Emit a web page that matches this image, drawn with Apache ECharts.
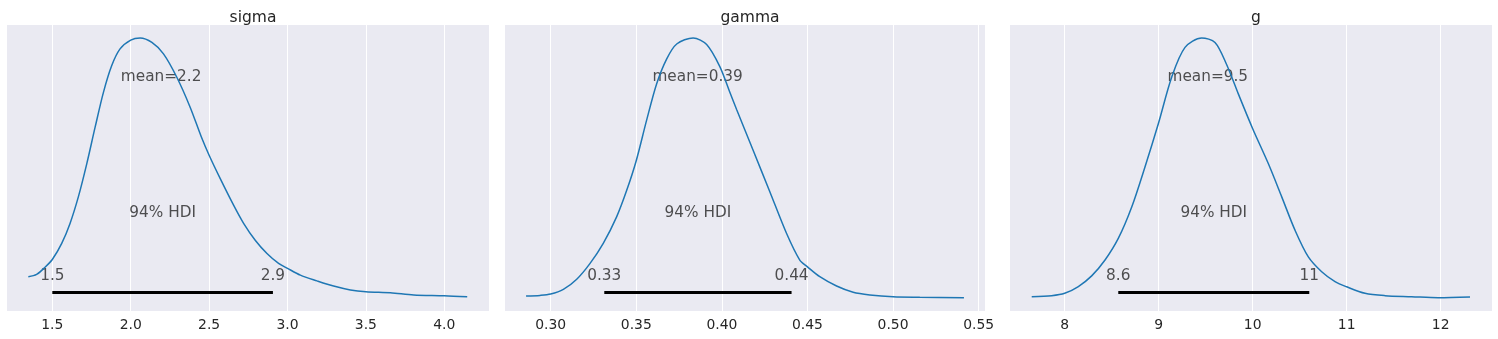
<!DOCTYPE html>
<html>
<head>
<meta charset="utf-8">
<script src="https://cdn.jsdelivr.net/npm/echarts@6/dist/echarts.min.js"></script>
<style>
html,body{margin:0;padding:0;background:#fff;}
#c{width:1498px;height:339px;}
</style>
</head>
<body>
<div id="c"></div>
<script>
// ---- data ----
const titles = ['sigma', 'gamma', 'g'];

const sigmaX = [1.347,1.40,1.453,1.5,1.56,1.613,1.666,1.72,1.773,1.826,1.879,1.932,2.0,2.06,2.135,2.209,2.294,2.379,2.45,2.5,2.571,2.656,2.72,2.794,2.869,2.943,3.0,3.082,3.188,3.294,3.401,3.5,3.656,3.805,4.0,4.146];
const sigmaD = [0.082,0.091,0.118,0.148,0.210,0.287,0.389,0.517,0.657,0.791,0.894,0.958,0.992,1.0,0.983,0.939,0.849,0.734,0.62,0.549,0.459,0.357,0.287,0.222,0.171,0.133,0.114,0.088,0.066,0.046,0.031,0.024,0.020,0.012,0.009,0.005];

const gammaX = [0.2856,0.2938,0.30,0.3074,0.3152,0.323,0.3307,0.3385,0.3444,0.35,0.356,0.3619,0.3677,0.3736,0.3832,0.3911,0.3988,0.4047,0.4086,0.4183,0.428,0.4378,0.4455,0.45,0.4572,0.467,0.4767,0.4864,0.50,0.5156,0.5414];
const gammaD = [0.008,0.010,0.015,0.033,0.072,0.133,0.210,0.312,0.414,0.529,0.683,0.824,0.919,0.977,1.0,0.975,0.89,0.79,0.725,0.567,0.409,0.248,0.146,0.120,0.082,0.046,0.022,0.012,0.005,0.003,0.001];

const gX = [7.649,7.862,8.0,8.145,8.287,8.429,8.57,8.713,8.854,8.996,9.138,9.28,9.457,9.599,9.72,9.847,10.0,10.166,10.309,10.45,10.592,10.734,10.876,11.0,11.195,11.407,11.691,11.974,12.312];
const gD = [0.005,0.009,0.018,0.044,0.085,0.146,0.229,0.350,0.504,0.670,0.849,0.964,1.0,0.983,0.90,0.785,0.651,0.517,0.389,0.261,0.158,0.101,0.063,0.043,0.018,0.009,0.005,0.001,0.004];

const means = [2.194, 0.3858, 9.522];
const meanLabels = ['mean=2.2', 'mean=0.39', 'mean=9.5'];
const hdiLow = [1.5, 0.3313, 8.570];
const hdiHigh = [2.907, 0.4407, 10.602];
const hdiLowLabels = ['1.5', '0.33', '8.6'];
const hdiHighLabels = ['2.9', '0.44', '11'];
const hdiText = '94% HDI';

const xMins = [1.211, 0.2733, 7.418];
const xMaxs = [4.285, 0.5537, 12.546];
const sigmaTicks = [1.5, 2.0, 2.5, 3.0, 3.5, 4.0];
const gammaTicks = [0.30, 0.35, 0.40, 0.45, 0.50, 0.55];
const gTicks = [8, 9, 10, 11, 12];
const tickDecimals = [1, 2, 0];

// ---- layout / style ----
const lefts = [7, 505, 1010];
const widths = [482, 480, 482];
const TOP = 25, HEIGHT = 286;
const FONT = 'DejaVu Sans';
const TXT = '#262626';
const LINE = '#1f77b4';
const TEXT_SIZE = 15.3;

const xs = [sigmaX, gammaX, gX];
const ds = [sigmaD, gammaD, gD];
const ticks = [sigmaTicks, gammaTicks, gTicks];

// arviz text heights (fractions of the upper ylim, peak normalised to 1)
const yTop = 1.05;
const meanY = 0.8 * yTop, hdiTextY = 0.3 * yTop, valY = 0.07 * yTop, barY = 0.02 * yTop;

const grid = [], xAxis = [], yAxis = [], series = [], title = [];

function textSeries(i, pts) {
  return {
    type: 'scatter', xAxisIndex: i, yAxisIndex: i, symbolSize: 0, silent: true,
    itemStyle: { color: TXT },
    data: pts.map(p => ({ value: [p[0], p[1]], label: { formatter: p[2] } })),
    label: {
      show: true, position: 'top', distance: 0, offset: [0, 5],
      lineHeight: TEXT_SIZE, fontFamily: FONT, fontSize: TEXT_SIZE, color: TXT,
      textBorderWidth: 0
    },
    z: 2
  };
}

for (let i = 0; i < 3; i++) {
  grid.push({ left: lefts[i], top: TOP, width: widths[i], height: HEIGHT, show: true,
    backgroundColor: '#EAEAF2', borderWidth: 0, containLabel: false });
  title.push({ text: titles[i], left: lefts[i] + widths[i] / 2, top: 5, textAlign: 'center',
    textStyle: { fontFamily: FONT, fontSize: 15.5, fontWeight: 'normal', color: TXT } });
  const dec = tickDecimals[i];
  xAxis.push({
    type: 'value', gridIndex: i, min: xMins[i], max: xMaxs[i],
    axisLine: { show: false }, axisTick: { show: false, customValues: ticks[i] },
    axisLabel: { customValues: ticks[i], margin: 7, fontFamily: FONT, fontSize: 13.9, color: TXT,
      formatter: v => v.toFixed(dec) },
    splitLine: { show: true, lineStyle: { color: '#ffffff', width: 1 } }
  });
  yAxis.push({ type: 'value', gridIndex: i, min: -0.05, max: yTop, show: false,
    splitLine: { show: false } });
  series.push({
    type: 'line', xAxisIndex: i, yAxisIndex: i, showSymbol: false, smooth: 0.3,
    data: xs[i].map((x, k) => [x, ds[i][k]]),
    lineStyle: { color: LINE, width: 1.5 }, silent: true, z: 4
  });
  series.push({
    type: 'line', xAxisIndex: i, yAxisIndex: i, showSymbol: false,
    data: [[hdiLow[i], barY], [hdiHigh[i], barY]],
    lineStyle: { color: '#000000', width: 3, cap: 'butt' }, silent: true, z: 3
  });
  series.push(textSeries(i, [
    [means[i], meanY, meanLabels[i]],
    [(hdiLow[i] + hdiHigh[i]) / 2, hdiTextY, hdiText],
    [hdiLow[i], valY, hdiLowLabels[i]],
    [hdiHigh[i], valY, hdiHighLabels[i]]
  ]));
}

const chart = echarts.init(document.getElementById('c'), null, { renderer: 'canvas' });
chart.setOption({ animation: false, backgroundColor: '#ffffff', title, grid, xAxis, yAxis, series });
</script>
</body>
</html>
